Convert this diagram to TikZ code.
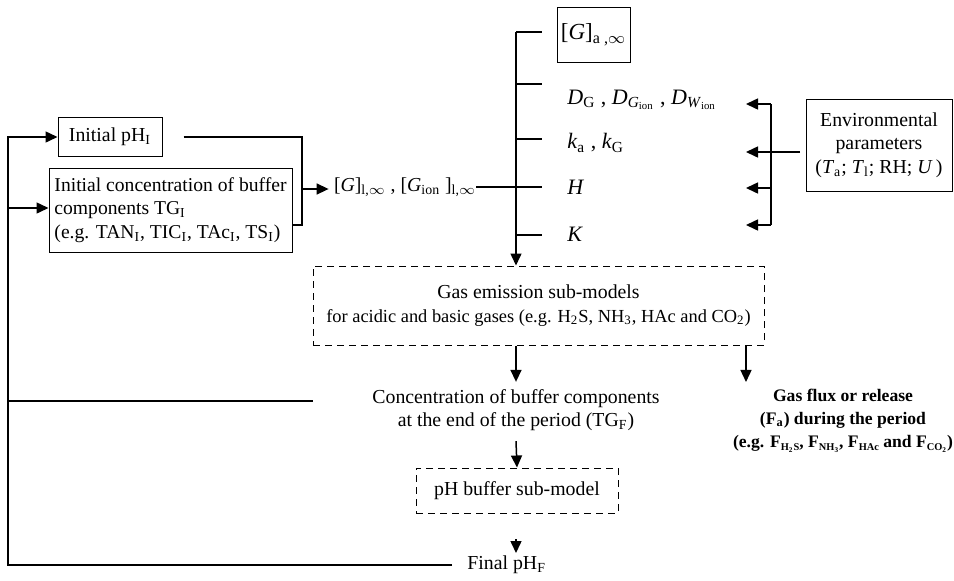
\documentclass[tikz,border=0pt]{standalone}
\usepackage{fontspec}
\setmainfont{Liberation Serif}
\usetikzlibrary{arrows.meta}
\newcommand\sbs[1]{\textsubscript{#1}}
\newcommand\tsb[1]{\raisebox{-0.35ex}{\fontsize{5.2}{6}\selectfont #1}}
\begin{document}
\begin{tikzpicture}[x=0.5pt,y=-0.5pt,
  every node/.style={font=\fontsize{9.9}{11.7}\selectfont, inner sep=0pt},
  sbox/.style={draw, line width=0.5pt},
  dbox/.style={draw, line width=0.5pt, dash pattern=on 3.5pt off 2.5pt},
  ln/.style={line width=0.75pt},
  ar/.style={ln, -{Triangle[length=6pt,width=5.5pt]}},
  mlab/.style={anchor=west, font=\fontsize{11}{13}\selectfont},
]
\useasboundingbox (0,0) rectangle (954,580);

% left boxes
\node[sbox, minimum width=52pt, minimum height=19.5pt] (phi) at (110,137) {Initial pH\sbs{I}};
\node[sbox, minimum width=121.5pt, minimum height=42pt, align=left,
      font=\fontsize{9.8}{11.7}\selectfont] (buf) at (170.5,210)
  {Initial concentration of buffer\\components TG\sbs{I}\\(e.g. TAN\sbs{I}, TIC\sbs{I}, TAc\sbs{I}, TS\sbs{I})};

\node (gl) at (405,187) {[\textit{G}]\sbs{l,$\infty$} , [\textit{G}\sbs{ion} ]\sbs{l,$\infty$}};

% parameter column
\node[sbox, minimum width=36.5pt, minimum height=27.5pt] (ga) at (593.5,34.5)
  {\fontsize{11.5}{13}\selectfont[\textit{G}]\sbs{a ,$\infty$}};
\node[mlab] (dl) at (567,100) {\textit{D}\sbs{G} , \textit{D}\sbs{\textit{G}\sbs{ion}} , \textit{D}\sbs{\textit{W}\sbs{ion}}};
\node[mlab] (kl) at (567,143) {\textit{k}\sbs{a} , \textit{k}\sbs{G}};
\node[mlab] (hl) at (567,187) {\textit{H}};
\node[mlab] (Kl) at (567,234) {\textit{K}};

\node[sbox, minimum width=73pt, minimum height=46pt, align=center] (env) at (879,145)
  {Environmental\\parameters\\(\textit{T}\sbs{a}; \textit{T}\sbs{l}; RH; \textit{U}\,)};

% sub-models
\node[dbox, minimum width=225.5pt, minimum height=39.5pt, align=center] (gas) at (538.5,305.5)
  {Gas emission sub-models\\{\fontsize{9.2}{11}\selectfont for acidic and basic gases (e.g. H\sbs{2}S, NH\sbs{3}, HAc and CO\sbs{2})}};
\node[align=center] (conc) at (516,410)
  {Concentration of buffer components\\at the end of the period (TG\sbs{F})};
\node[align=center, font=\fontsize{8.8}{11.5}\selectfont\bfseries] (flux) at (843,421)
  {Gas flux or release\\(F\sbs{a}) during the period\\(e.g. F\tsb{H\sbs{2}S}, F\tsb{NH\sbs{3}}, F\tsb{HAc} and F\tsb{CO\sbs{2}})};
\node[dbox, minimum width=101pt, minimum height=22.5pt] (phb) at (517,490.5) {pH buffer sub-model};
\node[anchor=west] (fin) at (467,565) {Final pH\sbs{F}};

% coordinates
\coordinate (T0) at (516,32);
\coordinate (TE) at (542,187);
\coordinate (J1) at (302,137);
\coordinate (J2) at (302,225);
\coordinate (J) at (302,189);
\coordinate (L1) at (8,137);
\coordinate (L2) at (8,208);
\coordinate (L3) at (8,401);
\coordinate (FX) at (746,0);
\coordinate (B1) at (771,104);
\coordinate (B2) at (771,152);
\coordinate (B3) at (771,188);
\coordinate (B4) at (771,225);
\coordinate (EI) at (800,152);
\coordinate (P1) at (516,539);
\coordinate (P2) at (516,553);

% left loop
\draw[ar] ([xshift=-7.5pt]fin.west) -| (L1) -- (phi.west);
\draw[ar] (L2) -- (L2 -| buf.west);
\draw[ln] (L3) -- (L3 -| gas.west);

% join of initial values
\draw[ln] ([xshift=10.5pt]phi.east) -- (J1) -- (J2) -- (J2 -| buf.east);
\draw[ar, shorten >=2.5pt] (J) -- (J -| gl.west);
\draw[ln] (gl.east) -- (TE);

% trunk and ticks
\draw[ar] (T0) -- (T0 |- gas.north);
\foreach \yy in {32,84,139,235} \draw[ln] (516,\yy) -- (542,\yy);

% environmental bracket
\draw[ln] (B1) -- (B4);
\draw[ln] (EI) -- (B2);
\foreach \b in {B1,B2,B3,B4} \draw[ar] (\b) -- ++(-25,0);

% downstream
\draw[ar] (gas.south -| conc) -- ([yshift=3.5pt]conc.north);
\draw[ar] (FX |- gas.south) -- ([yshift=3.5pt]FX |- flux.north);
\draw[ar] ([yshift=-5pt]conc.south) -- (phb.north);
\draw[ar] (P1) -- (P2);
\end{tikzpicture}
\end{document}
